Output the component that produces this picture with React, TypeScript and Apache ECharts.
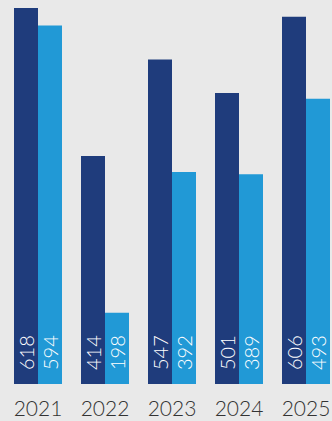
import React, { useEffect, useRef } from "react";
import * as echarts from "echarts";

const categories = ["2021", "2022", "2023", "2024", "2025"];
const seriesA = [618, 414, 547, 501, 606];
const seriesB = [594, 198, 392, 389, 493];

export default function App() {
  const ref = useRef<HTMLDivElement>(null);
  useEffect(() => {
    const chart = echarts.init(ref.current!, null, { renderer: "svg" });
    const label = {
      show: true,
      position: "insideBottom",
      rotate: 90,
      align: "left",
      verticalAlign: "middle",
      distance: 14,
      color: "#ffffff",
      fontSize: 20,
      fontFamily: "Lato",
      fontWeight: 300,
    };
    chart.setOption({
      animation: false,
      backgroundColor: "#e9e9e9",
      grid: { left: 4.5, width: 335, top: 8, height: 376, outerBoundsMode: "none", containLabel: false },
      xAxis: {
        type: "category",
        data: categories,
        axisLine: { show: false },
        axisTick: { show: false },
        axisLabel: { color: "#333333", fontSize: 21, fontFamily: "Lato", fontWeight: 300, margin: 13 },
      },
      yAxis: {
        type: "value",
        min: 100,
        max: 618,
        show: false,
        splitLine: { show: false },
      },
      series: [
        { type: "bar", data: seriesA, barWidth: 24, barGap: "0%", itemStyle: { color: "#1f3c7c" }, label },
        { type: "bar", data: seriesB, barWidth: 24, barGap: "0%", itemStyle: { color: "#2199d6" }, label },
      ],
    });
    return () => chart.dispose();
  }, []);
  return <div ref={ref} style={{ position: "fixed", left: 0, top: 0, width: 332, height: 421 }} />;
}
